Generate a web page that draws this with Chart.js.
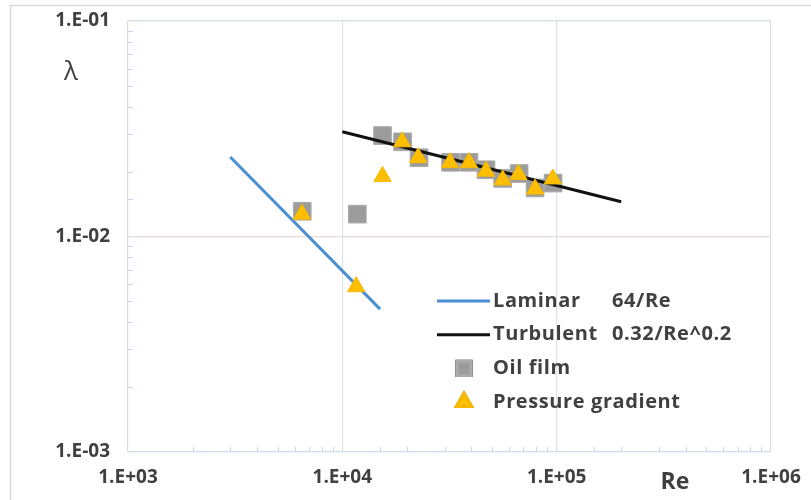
<!DOCTYPE html>
<html>
<head>
<meta charset="utf-8">
<script src="https://cdn.jsdelivr.net/npm/chart.js@4.4.1/dist/chart.umd.min.js"></script>
<style>
html, body { margin: 0; padding: 0; background: #fff; }
#wrap { position: relative; width: 811px; height: 500px; }
</style>
</head>
<body>
<div id="wrap"><canvas id="frictionChart"></canvas></div>
<script>
// legend names and formulas
const seriesNames = ['Laminar', 'Turbulent', 'Oil film', 'Pressure gradient'];
const seriesFormulas = ['64/Re', '0.32/Re^0.2', '', ''];

// reference lines (end points)
const laminarRe = [3000, 15000];
const laminarLambda = [0.0234, 0.0046];
const turbulentRe = [10000, 200000];
const turbulentLambda = [0.0306, 0.0145];

// measurements
const oilRe = [6500, 11750, 15400, 19100, 22800, 32000, 39000, 46800, 56000, 66800, 79300, 96200];
const oilLambda = [0.0131, 0.0127, 0.0294, 0.0275, 0.0232, 0.0221, 0.0221, 0.0204, 0.0186, 0.0196, 0.0168, 0.0177];
const pressureRe = [6480, 11600, 15400, 19000, 22600, 31800, 39000, 46800, 56000, 66300, 79300, 95900];
const pressureLambda = [0.0127, 0.00585, 0.0190, 0.0275, 0.0232, 0.0220, 0.0220, 0.0201, 0.0183, 0.0194, 0.0166, 0.0185];

// axis ticks
const xTickValues = [1e3, 1e4, 1e5, 1e6];
const xTickLabels = ['1.E+03', '1.E+04', '1.E+05', '1.E+06'];
const yTickValues = [1e-3, 1e-2, 1e-1];
const yTickLabels = ['1.E-03', '1.E-02', '1.E-01'];

const textColor = '#404040';
const edgeColor = '#d3dce8';

const pairs = (xs, ys) => xs.map((x, i) => ({ x: x, y: ys[i] }));
const majorIndex = (vals, v) => vals.findIndex(t => Math.abs(Math.log10(t) - Math.log10(v)) < 1e-6);

function gridColor(vals, inner) {
    return ctx => {
        if (!ctx.tick) return 'transparent';
        const i = majorIndex(vals, ctx.tick.value);
        if (i < 0) return 'transparent';
        return (i === 0 || i === vals.length - 1) ? edgeColor : inner;
    };
}

// outer frame of the chart
const frame = {
    id: 'frame',
    beforeDraw(chart) {
        const ctx = chart.ctx;
        ctx.save();
        ctx.strokeStyle = '#d9d9d9';
        ctx.lineWidth = 1.5;
        ctx.strokeRect(10.5, 5.5, chart.width, chart.height);
        ctx.restore();
    }
};

// small inward ticks at the minor log positions
const minorTicks = {
    id: 'minorTicks',
    beforeDatasetsDraw(chart) {
        const ctx = chart.ctx, area = chart.chartArea;
        const xs = chart.scales.x, ys = chart.scales.y;
        ctx.save();
        ctx.strokeStyle = '#c8d6e8';
        ctx.lineWidth = 1;
        ctx.beginPath();
        xs.ticks.forEach(t => {
            if (majorIndex(xTickValues, t.value) >= 0) return;
            const px = Math.round(xs.getPixelForValue(t.value)) + 0.5;
            ctx.moveTo(px, area.bottom);
            ctx.lineTo(px, area.bottom - 5);
        });
        ys.ticks.forEach(t => {
            if (majorIndex(yTickValues, t.value) >= 0) return;
            const py = Math.round(ys.getPixelForValue(t.value)) + 0.5;
            ctx.moveTo(area.left, py);
            ctx.lineTo(area.left + 5, py);
        });
        ctx.stroke();
        ctx.restore();
    }
};

// axis titles and the legend box inside the plot
const annotations = {
    id: 'annotations',
    afterDraw(chart) {
        const ctx = chart.ctx, area = chart.chartArea;
        ctx.save();
        ctx.fillStyle = textColor;
        ctx.textBaseline = 'middle';
        ctx.textAlign = 'center';
        ctx.font = '26px "Open Sans"';
        ctx.fillText('λ', area.left - 57, area.top + 52);
        ctx.font = 'bold 23px "Open Sans"';
        ctx.fillText('Re', area.right - 96, area.bottom + 30);

        const x0 = area.left + 309;
        const y0 = area.top + 280;
        const gap = 33.7;
        ctx.textAlign = 'left';
        ctx.font = 'bold 20px "Open Sans"';
        ctx.letterSpacing = '0.6px';
        chart.data.datasets.forEach((ds, i) => {
            const y = y0 + i * gap;
            if (ds.showLine) {
                ctx.strokeStyle = ds.borderColor;
                ctx.lineWidth = 3;
                ctx.beginPath();
                ctx.moveTo(x0, y);
                ctx.lineTo(x0 + 53, y);
                ctx.stroke();
            } else {
                Chart.helpers.drawPoint(ctx, {
                    pointStyle: ds.pointStyle,
                    radius: ds.pointStyle === 'rect' ? 10 : 9,
                    borderWidth: 1
                }, x0 + 27, y);
                ctx.fillStyle = ds.backgroundColor;
                ctx.strokeStyle = ds.borderColor;
                ctx.fill();
                ctx.stroke();
            }
            ctx.fillStyle = textColor;
            ctx.fillText(seriesNames[i], x0 + 56, y);
            if (seriesFormulas[i]) ctx.fillText(seriesFormulas[i], x0 + 175, y);
        });
        ctx.restore();
    }
};

new Chart(document.getElementById('frictionChart'), {
    type: 'scatter',
    data: {
        datasets: [{
            label: seriesNames[0] + ' ' + seriesFormulas[0],
            data: pairs(laminarRe, laminarLambda),
            showLine: true,
            borderColor: '#4a8fd3',
            borderWidth: 3,
            pointRadius: 0,
            order: 3
        }, {
            label: seriesNames[1] + ' ' + seriesFormulas[1],
            data: pairs(turbulentRe, turbulentLambda),
            showLine: true,
            borderColor: '#111111',
            borderWidth: 3,
            pointRadius: 0,
            order: 1
        }, {
            label: seriesNames[2],
            data: pairs(oilRe, oilLambda),
            pointStyle: 'rect',
            pointRadius: 12.5,
            backgroundColor: '#9c9c9c',
            borderColor: '#ababab',
            borderWidth: 1,
            order: 2
        }, {
            label: seriesNames[3],
            data: pairs(pressureRe, pressureLambda),
            pointStyle: 'triangle',
            pointRadius: 10,
            backgroundColor: '#ffbf00',
            borderColor: '#f5b800',
            borderWidth: 1,
            order: 0
        }]
    },
    options: {
        responsive: true,
        maintainAspectRatio: false,
        animation: false,
        layout: { padding: { left: 0, top: 21, right: 40, bottom: 0 } },
        plugins: {
            legend: { display: false },
            tooltip: { enabled: false }
        },
        scales: {
            x: {
                type: 'logarithmic',
                min: 1e3,
                max: 1e6,
                afterFit: s => {
                    s.height = 48;
                    s.paddingLeft = 0;
                    s.paddingRight = 0;
                },
                border: { display: false },
                grid: { color: gridColor(xTickValues, '#dfe3ea'), lineWidth: 1.2, drawTicks: false },
                ticks: {
                    autoSkip: false,
                    maxRotation: 0,
                    padding: 14,
                    color: textColor,
                    font: { family: 'Open Sans', size: 19, weight: 'bold' },
                    callback: v => {
                        const i = majorIndex(xTickValues, v);
                        return i >= 0 ? xTickLabels[i] : '';
                    }
                }
            },
            y: {
                type: 'logarithmic',
                min: 1e-3,
                max: 1e-1,
                afterFit: s => {
                    s.width = 128;
                    s.paddingTop = 0;
                    s.paddingBottom = 0;
                },
                border: { display: false },
                grid: { color: gridColor(yTickValues, '#ecdada'), lineWidth: 1.2, drawTicks: false },
                ticks: {
                    autoSkip: false,
                    padding: 18,
                    color: textColor,
                    font: { family: 'Open Sans', size: 19, weight: 'bold' },
                    callback: v => {
                        const i = majorIndex(yTickValues, v);
                        return i >= 0 ? yTickLabels[i] : '';
                    }
                }
            }
        }
    },
    plugins: [frame, minorTicks, annotations]
});
</script>
</body>
</html>
